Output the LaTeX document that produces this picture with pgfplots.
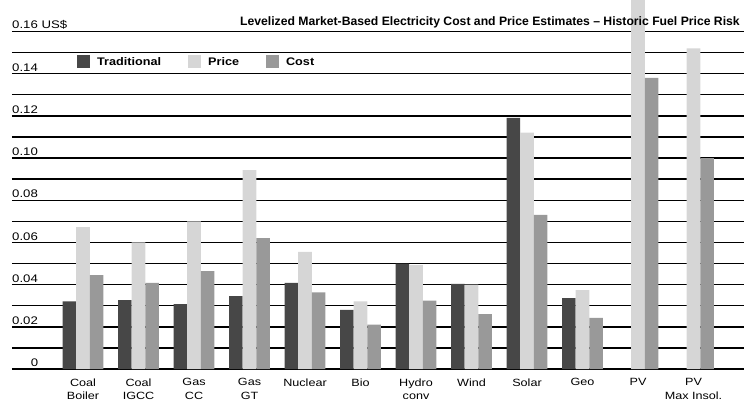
\documentclass[border=0pt]{standalone}
\usepackage{fontspec}
\setmainfont{Liberation Sans}[FakeStretch=1.2]
\newfontfamily\titlefont{Liberation Sans}
\newfontfamily\legendfont{Liberation Sans}[FakeStretch=1.15]
\usepackage{pgfplots}
\pgfplotsset{compat=1.18}

\definecolor{tradgray}{gray}{0.28}
\definecolor{pricegray}{gray}{0.84}
\definecolor{costgray}{gray}{0.60}

\begin{document}
\begin{tikzpicture}[x=1pt,y=1pt]
\useasboundingbox (0,0) rectangle (748,408);
\begin{axis}[
  at={(12pt,39pt)}, anchor=south west,
  scale only axis, width=732pt, height=369pt,
  xmin=-1.28, xmax=11.91, ymin=0, ymax=0.1749,
  clip mode=individual,
  axis line style={draw=none},
  tick style={draw=none},
  ytick={0,0.01,0.02,0.03,0.04,0.05,0.06,0.07,0.08,0.09,0.10,0.11,0.12,0.13,0.14,0.15,0.16},
  yticklabels={},
  ymajorgrids,
  major grid style={black, line width=1.4pt},
  xtick={0,1,2,3,4,5,6,7,8,9,10,11},
  xticklabels={Coal\\Boiler, Coal\\IGCC, Gas\\CC, Gas\\GT, Nuclear, Bio,
               Hydro\\conv, Wind, Solar, Geo, PV, PV\\Max Insol.},
  xticklabel style={anchor=north, yshift=-5pt, inner sep=0pt, align=center,
                    font=\fontsize{10.5}{13.5}\selectfont},
  ybar=0pt, bar width=13.6pt,
  legend columns=3,
  legend style={at={(0.0888,0.834)}, anchor=west, draw=none, fill=none,
                inner sep=0pt,
                nodes={inner sep=0pt, text height=8pt, text depth=0pt},
                font=\legendfont\bfseries\fontsize{11}{13}\selectfont,
                /tikz/every odd column/.append style={column sep=7pt},
                /tikz/every even column/.append style={column sep=27pt}},
  legend image code/.code={\fill[#1] (0pt,-6pt) rectangle (13pt,7pt);},
]
% Traditional (no value for the two PV cases)
\addplot[fill=tradgray, draw=none] coordinates {
  (0,0.0321) (1,0.0327) (2,0.0308) (3,0.0346) (4,0.0408) (5,0.0280)
  (6,0.0499) (7,0.0403) (8,0.1190) (9,0.0336)};
% Price
\addplot[fill=pricegray, draw=none] coordinates {
  (0,0.0673) (1,0.0600) (2,0.0700) (3,0.0943) (4,0.0555) (5,0.0320)
  (6,0.0492) (7,0.0400) (8,0.1120) (9,0.0374) (10,0.1800) (11,0.1520)};
% Cost
\addplot[fill=costgray, draw=none] coordinates {
  (0,0.0445) (1,0.0408) (2,0.0464) (3,0.0620) (4,0.0363) (5,0.0210)
  (6,0.0324) (7,0.0260) (8,0.0730) (9,0.0242) (10,0.1380) (11,0.1000)};
\legend{Traditional, Price, Cost}

% value scale, written on the left end of the rules
\begin{scope}[every node/.style={anchor=south west, inner sep=0pt, yshift=2pt,
      font=\fontsize{11}{13}\selectfont}]
  \node at (axis cs:-1.28,0.16) {0.16 US\$};
  \node at (axis cs:-1.28,0.14) {0.14};
  \node at (axis cs:-1.28,0.12) {0.12};
  \node at (axis cs:-1.28,0.10) {0.10};
  \node at (axis cs:-1.28,0.08) {0.08};
  \node at (axis cs:-1.28,0.06) {0.06};
  \node at (axis cs:-1.28,0.04) {0.04};
  \node at (axis cs:-1.28,0.02) {0.02};
  \node[anchor=south] at (axis cs:-0.875,0) {0};
\end{scope}
\node[anchor=south east, inner sep=0pt, yshift=3pt, xshift=-4pt,
      font=\titlefont\bfseries\fontsize{12.2}{14}\selectfont]
  at (axis cs:11.91,0.16)
  {Levelized Market-Based Electricity Cost and Price Estimates – Historic Fuel Price Risk};
\end{axis}
\end{tikzpicture}
\end{document}
